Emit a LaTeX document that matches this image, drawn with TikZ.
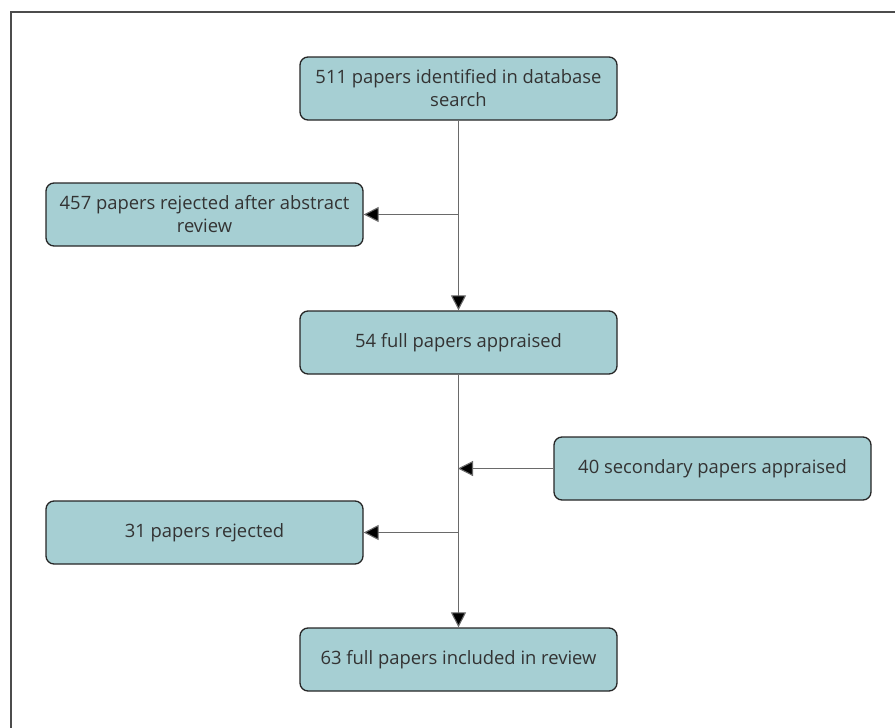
\documentclass[tikz,border=0pt]{standalone}
\usepackage{fontspec}
\setmainfont{Open Sans}
\usetikzlibrary{arrows.meta}
\definecolor{boxfill}{HTML}{A6CFD3}
\definecolor{txt}{HTML}{333333}
\definecolor{lin}{HTML}{6A6A6A}
\tikzset{
  box/.style={draw=black!85, line width=1.3pt, fill=boxfill, rounded corners=8pt,
    minimum width=317pt, minimum height=63pt, align=center,
    font=\fontsize{18.4}{23}\selectfont, text=txt, inner sep=0pt},
  conn/.style={draw=lin, line width=1.1pt},
  arr/.style={conn, -{Triangle[length=15pt,width=15pt,fill=black]}}
}
\begin{document}
\begin{tikzpicture}[x=1pt,y=-1pt]
\useasboundingbox (0,0) rectangle (895,728);
\draw[draw=black!70, line width=2pt] (11,728) -- (11,12) -- (895,12);
\node[box] (a) at (458.5,88.5) {511 papers identified in database\\search};
\node[box] (b) at (204.5,214.5) {457 papers rejected after abstract\\review};
\node[box] (c) at (458.5,342.5) {54 full papers appraised};
\node[box] (d) at (712.5,468.5) {40 secondary papers appraised};
\node[box] (e) at (204.5,532.5) {31 papers rejected};
\node[box] (f) at (458.5,659.5) {63 full papers included in review};
\coordinate (j1) at (458,214.5);
\coordinate (j2) at (458,468.5);
\coordinate (j3) at (458,532.5);
\draw[arr] (a.south) -- (c.north);
\draw[arr] (j1) -- (b.east);
\draw[arr] (c.south) -- (f.north);
\draw[arr] (d.west) -- (j2);
\draw[arr] (j3) -- (e.east);
\end{tikzpicture}
\end{document}
